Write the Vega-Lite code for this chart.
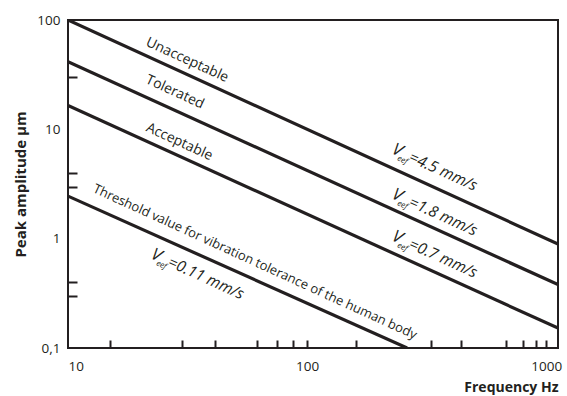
{
  "$schema": "https://vega.github.io/schema/vega-lite/v6.json",
  "width": 490,
  "height": 328,
  "autosize": {"type": "none"},
  "padding": {"left": 68, "top": 20, "right": 9, "bottom": 48},
  "config": {
    "view": {"stroke": "#231f20", "strokeWidth": 2},
    "font": "Open Sans",
    "text": {"font": "Open Sans", "color": "#231f20"}
  },
  "datasets": {
    "lines": [
      {"series": "Unacceptable", "f": 10, "amp": 100},
      {"series": "Unacceptable", "f": 1120, "amp": 0.893},
      {"series": "Tolerated", "f": 10, "amp": 41.5},
      {"series": "Tolerated", "f": 1120, "amp": 0.38},
      {"series": "Acceptable", "f": 10, "amp": 16.5},
      {"series": "Acceptable", "f": 1120, "amp": 0.152},
      {"series": "Threshold", "f": 10, "amp": 2.45},
      {"series": "Threshold", "f": 262, "amp": 0.1}
    ],
    "words": [
      {"label": "Unacceptable", "f": 31.5, "amp": 43.0},
      {"label": "Tolerated", "f": 28.0, "amp": 21.9},
      {"label": "Acceptable", "f": 29.2, "amp": 7.66}
    ],
    "threshold": [
      {"label": "Threshold value for vibration tolerance of the human body", "f": 60.5, "amp": 0.612}
    ],
    "vlabels": [
      {"f": 224.4, "amp": 6.07, "rest": "=4.5 mm/s"},
      {"f": 224.4, "amp": 2.355, "rest": "=1.8 mm/s"},
      {"f": 224.4, "amp": 0.972, "rest": "=0.7 mm/s"},
      {"f": 22.03, "amp": 0.666, "rest": "=0.11 mm/s"}
    ]
  },
  "encoding": {
    "x": {
      "field": "f",
      "type": "quantitative",
      "scale": {"type": "log", "domain": [10, 1120]},
      "axis": {
        "title": "Frequency Hz",
        "values": [10, 15, 30, 41, 62, 75, 87, 100, 160, 330, 440, 680, 800, 910, 1000],
        "labelExpr": "datum.value == 10 ? '10' : datum.value == 100 ? '100' : datum.value == 1000 ? '1000' : ''",
        "labelOverlap": false,
        "domain": false,
        "grid": false,
        "tickSize": -8,
        "tickWidth": 2,
        "tickColor": "#231f20",
        "tickOpacity": {"condition": {"test": "datum.value == 10", "value": 0}, "value": 1},
        "labelFontSize": 13.5,
        "labelColor": "#231f20",
        "labelPadding": 19,
        "titleFontSize": 14,
        "titleFontWeight": "bold",
        "titleColor": "#231f20",
        "titleAnchor": "end",
        "titlePadding": 8
      }
    },
    "y": {
      "field": "amp",
      "type": "quantitative",
      "scale": {"type": "log", "domain": [0.1, 100]},
      "axis": {
        "title": "Peak amplitude μm",
        "values": [0.1, 0.3, 0.4, 1, 3, 4, 10, 30, 100],
        "labelExpr": "datum.value == 0.1 ? '0,1' : datum.value == 1 ? '1' : datum.value == 10 ? '10' : datum.value == 100 ? '100' : ''",
        "labelOverlap": false,
        "labelFlush": false,
        "domain": false,
        "grid": false,
        "tickSize": -9,
        "tickWidth": 2,
        "tickColor": "#231f20",
        "tickOpacity": {"condition": {"test": "datum.value == 0.1 || datum.value == 1 || datum.value == 10 || datum.value == 100", "value": 0}, "value": 1},
        "labelFontSize": 13.5,
        "labelColor": "#231f20",
        "labelPadding": 17,
        "titleFontSize": 15,
        "titleFontWeight": "bold",
        "titleColor": "#231f20",
        "titlePadding": 8
      }
    }
  },
  "layer": [
    {
      "data": {"name": "lines"},
      "mark": {"type": "line", "color": "#231f20", "strokeWidth": 3.2, "clip": true},
      "encoding": {"detail": {"field": "series", "type": "nominal"}}
    },
    {
      "data": {"name": "words"},
      "mark": {"type": "text", "angle": 24.6, "align": "center", "baseline": "middle", "fontSize": 14},
      "encoding": {"text": {"field": "label", "type": "nominal"}}
    },
    {
      "data": {"name": "threshold"},
      "mark": {"type": "text", "angle": 24.6, "align": "center", "baseline": "middle", "fontSize": 13},
      "encoding": {"text": {"field": "label", "type": "nominal"}}
    },
    {
      "data": {"name": "vlabels"},
      "mark": {"type": "text", "angle": 24.6, "align": "left", "baseline": "alphabetic", "fontSize": 17, "fontStyle": "italic"},
      "encoding": {"text": {"value": "V"}}
    },
    {
      "data": {"name": "vlabels"},
      "mark": {"type": "text", "angle": 24.6, "align": "left", "baseline": "alphabetic", "fontSize": 8, "fontStyle": "italic", "dx": 8, "dy": 4},
      "encoding": {"text": {"value": "eef"}}
    },
    {
      "data": {"name": "vlabels"},
      "mark": {"type": "text", "angle": 24.6, "align": "left", "baseline": "alphabetic", "fontSize": 15.5, "fontStyle": "italic", "dx": 18.5},
      "encoding": {"text": {"field": "rest", "type": "nominal"}}
    }
  ]
}
